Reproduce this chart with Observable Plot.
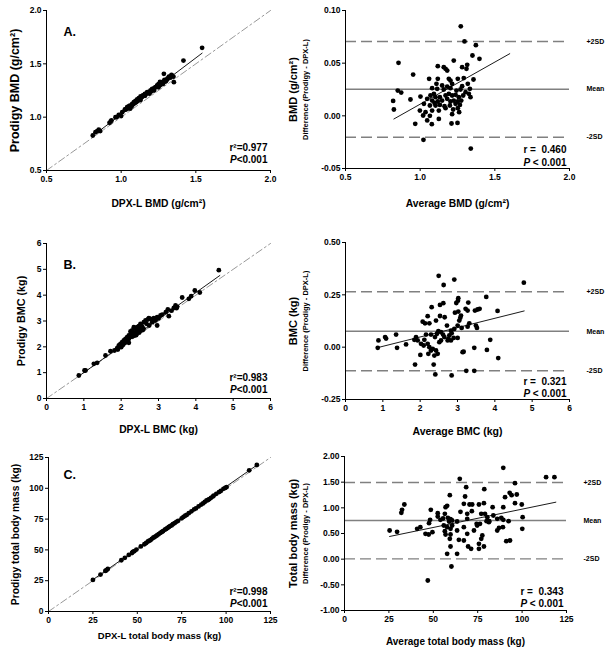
<!DOCTYPE html>
<html><head><meta charset="utf-8">
<script src="https://cdn.jsdelivr.net/npm/d3@7"></script>
<script src="https://cdn.jsdelivr.net/npm/@observablehq/plot@0.6"></script>
<style>
body{margin:0;background:#fff;}
#fig{position:relative;width:614px;height:654px;overflow:hidden;background:#fff;}
#fig svg{position:absolute;overflow:visible;}
#fig text{white-space:pre;}
</style></head>
<body><div id="fig"></div>
<script>
// ---------- tick values ----------
const ticksBMD = [0.5, 1.0, 1.5, 2.0];
const ticksBMDdiff = [-0.05, 0.00, 0.05, 0.10];
const ticksBMC = [0, 1, 2, 3, 4, 5, 6];
const ticksBMCdiff = [-0.25, 0.00, 0.25, 0.50];
const ticksMass = [0, 25, 50, 75, 100, 125];
const ticksMassDiff = [-1.00, -0.50, 0.00, 0.50, 1.00, 1.50, 2.00];

// ---------- A: BMD  [DPX-L, Prodigy] ----------
const bmdPairs = [[1.542,1.650],[1.417,1.531],[1.286,1.406],[1.353,1.328],[1.337,1.397],[1.319,1.375],[1.308,1.353],[1.297,1.334],[1.275,1.328],[1.257,1.312],[1.241,1.297],[1.230,1.281],[1.208,1.266],[1.197,1.250],[1.174,1.234],[1.159,1.219],[1.145,1.203],[1.130,1.194],[1.118,1.178],[1.107,1.166],[1.096,1.153],[1.085,1.141],[1.074,1.125],[1.058,1.109],[1.040,1.094],[1.025,1.072],[1.007,1.047],[0.984,1.022],[0.962,1.000],[0.935,0.969],[0.922,0.947],[0.850,0.884],[0.828,0.859],[0.810,0.828],[1.10,1.14],[1.12,1.17],[1.15,1.20],[1.16,1.21],[1.18,1.23],[1.20,1.24],[1.21,1.26],[1.22,1.27],[1.24,1.29],[1.26,1.30],[1.27,1.31],[1.28,1.33],[1.30,1.34],[1.31,1.36],[1.32,1.38],[1.33,1.37],[1.34,1.39],[1.06,1.08],[1.08,1.12],[1.09,1.13],[1.13,1.18],[1.14,1.19],[1.17,1.22],[1.19,1.24],[1.23,1.28],[1.25,1.31],[1.05,1.10],[1.03,1.07],[1.00,1.01],[0.93,0.96],[0.86,0.87],[0.84,0.87],[1.11,1.15],[1.16,1.20],[1.19,1.22],[1.22,1.25],[1.25,1.28],[1.28,1.31],[1.13,1.16],[1.07,1.10],[1.04,1.08],[0.97,1.00],[1.26,1.33],[1.29,1.35],[1.35,1.38]];
const bmdFitX = [0.828, 1.542];
const bmdFitY = [0.844, 1.600];
// [average, difference]
const bmdDiffPairs = [[1.272,0.085],[1.297,0.0706],[1.373,0.0671],[1.350,0.0573],[1.397,0.0541],[0.855,0.0503],[1.225,0.0525],[1.118,0.0471],[1.158,0.0462],[1.170,0.0446],[1.181,0.0430],[1.281,0.0462],[1.315,0.0484],[1.310,0.0446],[0.953,0.0392],[1.060,0.0351],[1.118,0.0351],[1.192,0.0351],[1.203,0.0335],[1.252,0.0351],[1.292,0.0358],[1.357,0.0345],[1.109,0.0304],[1.147,0.0288],[1.181,0.0278],[1.214,0.0304],[1.319,0.0304],[1.281,0.0282],[0.850,0.0240],[0.873,0.0221],[1.080,0.0263],[1.114,0.0256],[1.158,0.0250],[1.203,0.0263],[1.243,0.0240],[1.270,0.0250],[1.333,0.0256],[1.304,0.0225],[1.069,0.0193],[1.092,0.0209],[1.103,0.0177],[1.132,0.0177],[1.170,0.0193],[1.192,0.0209],[1.214,0.0193],[1.237,0.0199],[1.259,0.0177],[1.288,0.0193],[1.326,0.0209],[1.337,0.0177],[0.935,0.0155],[1.002,0.0183],[1.047,0.0161],[1.080,0.0145],[1.096,0.0123],[1.118,0.0136],[1.147,0.0145],[1.181,0.0161],[1.203,0.0136],[1.225,0.0145],[1.252,0.0136],[1.275,0.0145],[0.819,0.0142],[0.824,0.0060],[1.025,0.0114],[1.065,0.0098],[1.103,0.0098],[1.132,0.0104],[1.163,0.0092],[1.199,0.0098],[1.237,0.0114],[1.266,0.0104],[0.998,0.0050],[1.036,0.0035],[1.080,0.0050],[1.125,0.0050],[1.170,0.0073],[1.221,0.0060],[1.252,0.0073],[1.065,0.0000],[1.020,0.0003],[1.214,0.0016],[1.261,0.0035],[0.967,-0.0076],[1.078,-0.0079],[1.210,-0.0073],[1.250,-0.0067],[1.047,-0.0044],[1.125,-0.0029],[1.022,-0.0228],[1.339,-0.0311]];
const bmdLimits = [0.0706, 0.0253, -0.0203];   // +2SD, mean, -2SD
const bmdDiffFitX = [0.824, 1.60];
const bmdDiffFitY = [-0.003, 0.059];

// ---------- B: BMC ----------
const bmcPairs = [[4.616,4.968],[4.107,4.104],[3.973,4.181],[3.813,3.858],[3.634,3.910],[3.875,3.962],[3.455,3.601],[3.411,3.510],[3.482,3.497],[3.250,3.446],[3.196,3.342],[3.277,3.188],[3.054,3.213],[2.964,3.149],[2.875,3.110],[2.786,3.085],[2.714,3.059],[2.920,3.020],[2.964,2.826],[2.741,3.110],[2.607,2.955],[2.518,2.891],[2.429,2.762],[2.384,2.697],[2.295,2.633],[2.268,2.542],[2.205,2.439],[2.161,2.375],[2.116,2.310],[2.071,2.246],[2.027,2.181],[1.982,2.117],[1.938,2.052],[1.893,1.949],[1.821,1.859],[2.473,2.800],[2.339,2.762],[2.563,2.762],[2.446,2.633],[2.518,2.671],[2.411,2.504],[2.250,2.594],[2.232,2.375],[2.357,2.439],[2.143,2.207],[2.205,2.155],[2.054,2.078],[1.911,1.897],[2.000,1.988],[2.750,2.826],[2.652,3.020],[2.679,2.891],[2.830,2.955],[1.714,1.833],[1.580,1.665],[1.357,1.381],[1.268,1.342],[1.045,1.084],[1.018,1.084],[0.866,0.891],[2.30,2.40],[2.35,2.55],[2.45,2.70],[2.55,2.80],[2.60,2.70],[2.40,2.45],[2.50,2.60],[2.20,2.30],[2.10,2.15],[3.10,3.25],[3.00,3.10],[2.90,3.05],[3.35,3.40],[3.50,3.55],[2.48,2.55],[2.58,2.65]];
const bmcFitX = [0.866, 4.643];
const bmcFitY = [0.865, 4.762];
const bmcDiffPairs = [[2.496,0.341],[2.914,0.323],[2.629,0.297],[4.777,0.308],[3.770,0.240],[3.021,0.234],[2.308,0.191],[2.531,0.202],[2.620,0.210],[2.968,0.211],[3.012,0.222],[3.289,0.213],[4.073,0.173],[3.217,0.183],[3.271,0.175],[3.467,0.175],[3.538,0.180],[3.592,0.183],[2.932,0.165],[3.021,0.170],[3.093,0.151],[3.075,0.140],[3.048,0.127],[2.201,0.148],[2.531,0.149],[2.656,0.143],[2.424,0.127],[2.068,0.122],[2.130,0.114],[2.246,0.114],[3.316,0.114],[3.494,0.103],[3.521,0.092],[3.271,0.098],[3.111,0.092],[2.718,0.103],[3.004,0.103],[2.914,0.087],[2.825,0.079],[2.843,0.067],[2.487,0.076],[2.558,0.072],[2.451,0.064],[2.612,0.060],[2.647,0.048],[2.781,0.056],[2.754,0.040],[2.897,0.044],[3.004,0.044],[2.157,0.060],[2.290,0.060],[2.397,0.048],[2.558,0.032],[2.736,0.032],[2.513,0.024],[2.825,0.032],[1.889,0.048],[1.845,0.035],[1.934,0.032],[2.112,0.035],[2.023,0.016],[2.094,0.008],[2.201,0.016],[2.246,0.000],[2.335,-0.008],[2.424,-0.016],[2.290,-0.016],[2.219,-0.032],[2.469,-0.032],[2.380,-0.040],[3.137,-0.024],[3.449,-0.003],[3.788,-0.013],[3.877,0.035],[4.091,-0.052],[1.622,0.013],[1.381,-0.003],[0.882,0.032],[1.061,0.048],[1.087,0.041],[0.864,-0.003],[1.355,0.060],[2.005,-0.037],[1.863,-0.083],[2.362,-0.083],[2.406,-0.130],[2.843,-0.135],[3.235,-0.113],[3.449,-0.113],[3.164,-0.022]];
const bmcLimits = [0.265, 0.076, -0.113];
const bmcDiffFitX = [0.865, 4.786];
const bmcDiffFitY = [-0.002, 0.173];

// ---------- C: total body mass ----------
const massPairs = [[25.0,25.6],[29.3,30.0],[32.0,32.9],[32.6,33.5],[33.4,34.5],[41.0,41.6],[43.0,43.6],[45.2,45.9],[47.0,47.5],[47.5,48.4],[48.3,49.0],[49.5,50.3],[52.0,52.8],[54.0,54.6],[55.0,55.6],[56.0,56.8],[56.8,57.5],[57.5,58.0],[58.2,59.0],[59.0,59.9],[59.6,60.3],[60.3,61.0],[61.0,61.7],[62.0,62.7],[63.0,63.8],[63.8,64.6],[64.5,65.2],[65.5,66.4],[66.3,67.0],[67.0,67.8],[67.8,68.6],[68.5,69.3],[69.3,69.9],[70.0,70.8],[71.0,71.7],[72.0,72.8],[73.0,73.6],[75.0,75.6],[76.0,76.8],[77.0,77.8],[77.8,78.4],[79.0,79.8],[80.5,81.3],[82.0,82.9],[83.0,83.7],[84.5,85.3],[86.0,86.8],[87.0,87.7],[88.0,88.9],[89.0,90.1],[89.8,90.5],[90.5,91.2],[91.5,92.3],[92.5,93.3],[93.0,94.0],[94.5,95.5],[96.0,96.9],[97.0,97.8],[98.5,99.6],[99.5,100.3],[100.3,101.0],[113.0,114.6],[117.3,118.9]];
const massFitX = [24.6, 117.5];
const massFitY = [25.4, 119.0];
const massDiffPairs = [[89.4,1.779],[113.5,1.597],[118.2,1.597],[64.9,1.565],[96.0,1.481],[68.5,1.403],[78.7,1.364],[93.0,1.292],[94.1,1.247],[97.0,1.260],[59.3,1.247],[67.9,1.221],[90.4,1.208],[96.0,1.091],[99.8,1.065],[67.2,1.078],[70.4,1.065],[71.9,1.065],[75.7,1.065],[78.5,1.091],[56.9,1.013],[57.8,1.039],[89.4,1.013],[33.7,1.065],[32.4,0.961],[32.0,0.903],[83.4,1.013],[79.1,0.883],[48.6,0.961],[52.5,0.896],[56.5,0.883],[52.5,0.831],[55.5,0.792],[58.2,0.805],[59.7,0.779],[60.6,0.753],[65.3,0.922],[69.1,0.883],[71.7,0.935],[77.0,0.883],[80.4,0.818],[83.8,0.851],[81.3,0.721],[86.0,0.786],[88.3,0.805],[89.4,0.766],[100.3,0.818],[92.4,0.740],[100.1,0.591],[48.2,0.766],[54.0,0.766],[58.9,0.734],[63.4,0.734],[69.1,0.786],[74.4,0.688],[76.3,0.688],[80.0,0.740],[81.5,0.740],[25.4,0.558],[29.6,0.532],[40.9,0.591],[42.7,0.623],[47.6,0.701],[45.6,0.494],[47.4,0.481],[49.5,0.526],[55.9,0.656],[57.8,0.623],[59.7,0.591],[60.6,0.656],[56.5,0.545],[56.9,0.481],[59.7,0.481],[63.4,0.558],[67.2,0.623],[69.1,0.494],[72.9,0.558],[74.7,0.656],[77.6,0.461],[77.0,0.396],[75.7,0.299],[78.5,0.247],[75.7,0.201],[87.0,0.610],[89.2,0.623],[86.0,0.558],[91.1,0.351],[93.2,0.364],[59.3,0.396],[64.4,0.377],[69.6,0.247],[71.3,0.201],[59.7,0.247],[67.2,0.364],[57.8,0.104],[63.4,0.104],[60.2,-0.143],[46.9,-0.416]];
const massLimits = [1.494, 0.753, 0.006];
const massDiffFitX = [25.4, 119.0];
const massDiffFitY = [0.442, 1.110];

const limitLabels = ["+2SD", "Mean", "-2SD"];

// ---------- drawing ----------
const FONT = "Arial, 'Liberation Sans', Helvetica, sans-serif";
const fig = document.getElementById("fig");
const f1 = d => d.toFixed(1), f2 = d => d.toFixed(2), f0 = d => d.toFixed(0);

function mount(svg, left, top) {
  svg.style.left = left + "px";
  svg.style.top = top + "px";
  d3.select(svg).selectAll("text").each(function () {
    const t = this.textContent;
    if (/^P\s?</.test(t)) {
      this.textContent = "";
      const s = d3.select(this);
      s.append("tspan").attr("font-style", "italic").text("P");
      s.append("tspan").text(t.slice(1));
    }
  });
  fig.appendChild(svg);
}

function axes(o) {
  return [
    Plot.ruleX([o.xDomain[0]], {stroke: "#000", strokeWidth: 1}),
    Plot.ruleY([o.yDomain[0]], {stroke: "#000", strokeWidth: 1}),
    Plot.axisX(o.xTicks, {tickFormat: o.xFmt, tickSize: 3, tickPadding: 2, label: null, fontSize: 8.5, fontWeight: "bold"}),
    Plot.axisY(o.yTicks, {tickFormat: o.yFmt, tickSize: 3, tickPadding: 2, label: null, fontSize: 8.5, fontWeight: "bold"})
  ];
}

function base(o) {
  return {
    width: o.width, height: o.height,
    marginLeft: o.ml, marginRight: o.mr, marginTop: o.mt, marginBottom: o.mb,
    style: {fontFamily: FONT, background: "transparent", color: "#000"},
    x: {domain: o.xDomain, label: null},
    y: {domain: o.yDomain, label: null}
  };
}

function leftPanel(o) {
  const pts = o.pairs.map(([x, y]) => ({x, y}));
  const fit = o.fitX.map((x, i) => ({x, y: o.fitY[i]}));
  return Plot.plot({
    ...base(o),
    marks: [
      Plot.line(o.xDomain, {x: d => d, y: d => d, stroke: "#8c8c8c", strokeWidth: 0.9, strokeDasharray: "7,3,2,3"}),
      ...axes(o),
      Plot.dot(pts, {x: "x", y: "y", r: 2.4, fill: "#000", stroke: "none"}),
      Plot.line(fit, {x: "x", y: "y", stroke: "#000", strokeWidth: 0.9}),
      Plot.text([o.letter], {text: d => d, frameAnchor: "top-left", textAnchor: "start", lineAnchor: "bottom", dx: o.letterDx, dy: o.letterDy, fontSize: 12.5, fontWeight: "bold"}),
      Plot.text([o.r2], {text: d => d, frameAnchor: "bottom-right", textAnchor: "end", lineAnchor: "bottom", dx: -3, dy: o.r2Dy, fontSize: 10, fontWeight: "bold"}),
      Plot.text(["P<0.001"], {text: d => d, frameAnchor: "bottom-right", textAnchor: "end", lineAnchor: "bottom", dx: -3, dy: o.pDy, fontSize: 10, fontWeight: "bold"}),
      Plot.text([o.xLabel], {text: d => d, frameAnchor: "bottom", lineAnchor: "middle", dy: o.xLabelDy, fontSize: o.xLabelSize, fontWeight: "bold"}),
      Plot.text([o.yLabel], {text: d => d, frameAnchor: "left", rotate: -90, lineAnchor: "middle", textAnchor: "middle", dx: o.yLabelDx, fontSize: o.yLabelSize, fontWeight: "bold"})
    ]
  });
}

function rightPanel(o) {
  const pts = o.pairs.map(([x, y]) => ({x, y}));
  const fit = o.fitX.map((x, i) => ({x, y: o.fitY[i]}));
  const lims = o.limits.map((y, i) => ({y, label: limitLabels[i]}));
  return Plot.plot({
    ...base(o),
    marks: [
      Plot.ruleY([o.limits[0], o.limits[2]], {stroke: "#808080", strokeWidth: 1.4, strokeDasharray: "11,5"}),
      Plot.ruleY([o.limits[1]], {stroke: "#808080", strokeWidth: 1.4}),
      ...axes(o),
      Plot.dot(pts, {x: "x", y: "y", r: 2.4, fill: "#000", stroke: "none"}),
      Plot.line(fit, {x: "x", y: "y", stroke: "#000", strokeWidth: 0.9}),
      Plot.text(lims, {y: "y", text: "label", frameAnchor: "right", textAnchor: "start", dx: 17, fontSize: 7, fontWeight: "bold"}),
      Plot.text([o.r], {text: d => d, frameAnchor: "bottom-right", textAnchor: "end", lineAnchor: "bottom", dx: -3, dy: o.rDy, fontSize: 10, fontWeight: "bold"}),
      Plot.text(["P < 0.001"], {text: d => d, frameAnchor: "bottom-right", textAnchor: "end", lineAnchor: "bottom", dx: -3, dy: o.pDy, fontSize: 10, fontWeight: "bold"}),
      Plot.text([o.xLabel], {text: d => d, frameAnchor: "bottom", lineAnchor: "middle", dy: o.xLabelDy, fontSize: o.xLabelSize, fontWeight: "bold"}),
      Plot.text([o.yLabel], {text: d => d, frameAnchor: "left", rotate: -90, lineAnchor: "middle", textAnchor: "middle", dx: o.yLabelDx, fontSize: 11, fontWeight: "bold"}),
      Plot.text(["Difference (Prodigy - DPX-L)"], {text: d => d, frameAnchor: "left", rotate: -90, lineAnchor: "middle", textAnchor: "middle", dx: o.yLabelDx + 12, fontSize: 7.5, fontWeight: "bold"})
    ]
  });
}

// Row A
mount(leftPanel({
  width: 280, height: 215, ml: 46, mr: 10, mt: 10, mb: 45,
  xDomain: [0.5, 2.0], yDomain: [0.5, 2.0], xTicks: ticksBMD, yTicks: ticksBMD, xFmt: f1, yFmt: f1,
  pairs: bmdPairs, fitX: bmdFitX, fitY: bmdFitY,
  letter: "A.", letterDx: 17, letterDy: 25, r2: "r²=0.977", r2Dy: -20, pDy: -8,
  xLabel: "DPX-L BMD (g/cm²)", xLabelDy: 33, xLabelSize: 10.3,
  yLabel: "Prodigy BMD (g/cm²)", yLabelDx: -32, yLabelSize: 12.5
}), 0, 0);
mount(rightPanel({
  width: 334, height: 215, ml: 65, mr: 45, mt: 10, mb: 47,
  xDomain: [0.5, 2.0], yDomain: [-0.05, 0.10], xTicks: ticksBMD, yTicks: ticksBMDdiff, xFmt: f1, yFmt: f2,
  pairs: bmdDiffPairs, fitX: bmdDiffFitX, fitY: bmdDiffFitY, limits: bmdLimits,
  r: "r =  0.460", rDy: -16, pDy: -3,
  xLabel: "Average BMD (g/cm²)", xLabelDy: 35, xLabelSize: 10.3,
  yLabel: "BMD (g/cm²)", yLabelDx: -52
}), 280, 0);

// Row B
mount(leftPanel({
  width: 280, height: 220, ml: 46, mr: 10, mt: 28, mb: 37,
  xDomain: [0, 6], yDomain: [0, 6], xTicks: ticksBMC, yTicks: ticksBMC, xFmt: f0, yFmt: f0,
  pairs: bmcPairs, fitX: bmcFitX, fitY: bmcFitY,
  letter: "B.", letterDx: 17, letterDy: 25, r2: "r²=0.983", r2Dy: -18, pDy: -6,
  xLabel: "DPX-L BMC (kg)", xLabelDy: 31, xLabelSize: 10.3,
  yLabel: "Prodigy BMC (kg)", yLabelDx: -25, yLabelSize: 10.8
}), 0, 215);
mount(rightPanel({
  width: 334, height: 220, ml: 65, mr: 45, mt: 27, mb: 36,
  xDomain: [0, 6], yDomain: [-0.25, 0.50], xTicks: ticksBMC, yTicks: ticksBMCdiff, xFmt: f0, yFmt: f2,
  pairs: bmcDiffPairs, fitX: bmcDiffFitX, fitY: bmcDiffFitY, limits: bmcLimits,
  r: "r =  0.321", rDy: -15, pDy: -3,
  xLabel: "Average BMC (kg)", xLabelDy: 32, xLabelSize: 10.5,
  yLabel: "BMC (kg)", yLabelDx: -52
}), 280, 215);

// Row C
mount(leftPanel({
  width: 280, height: 219, ml: 48, mr: 10, mt: 22, mb: 43,
  xDomain: [0, 125], yDomain: [0, 125], xTicks: ticksMass, yTicks: ticksMass, xFmt: f0, yFmt: f0,
  pairs: massPairs, fitX: massFitX, fitY: massFitY,
  letter: "C.", letterDx: 15, letterDy: 21, r2: "r²=0.998", r2Dy: -17, pDy: -5,
  xLabel: "DPX-L total body mass (kg)", xLabelDy: 24, xLabelSize: 9.5,
  yLabel: "Prodigy total body mass (kg)", yLabelDx: -33, yLabelSize: 10.3
}), 0, 435);
mount(rightPanel({
  width: 334, height: 219, ml: 64, mr: 48, mt: 21, mb: 44,
  xDomain: [0, 125], yDomain: [-1.00, 2.00], xTicks: ticksMass, yTicks: ticksMassDiff, xFmt: f0, yFmt: f2,
  pairs: massDiffPairs, fitX: massDiffFitX, fitY: massDiffFitY, limits: massLimits,
  r: "r =  0.343", rDy: -16, pDy: -4,
  xLabel: "Average total body mass (kg)", xLabelDy: 31, xLabelSize: 10,
  yLabel: "Total body mass (kg)", yLabelDx: -51
}), 280, 435);
</script>
</body></html>
